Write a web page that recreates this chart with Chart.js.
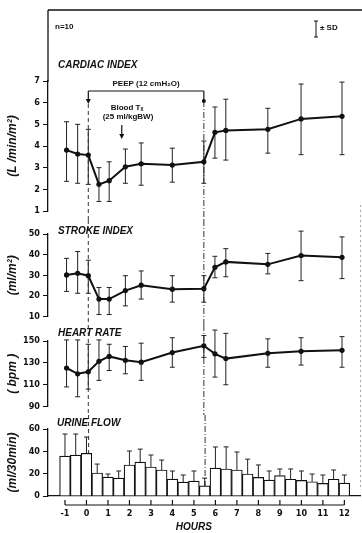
<!DOCTYPE html>
<html>
<head>
<meta charset="utf-8">
<script src="https://cdn.jsdelivr.net/npm/chart.js@4.4.1/dist/chart.umd.min.js"></script>
<style>
  html, body { margin: 0; padding: 0; background: #fff; }
  #wrap { position: relative; width: 362px; height: 533px; overflow: hidden; }
  .panel { position: absolute; left: 0; width: 362px; }
</style>
</head>
<body>
<div id="wrap">
  <div class="panel" style="top:0;height:220px"><canvas id="ci"></canvas></div>
  <div class="panel" style="top:220px;height:105px"><canvas id="si"></canvas></div>
  <div class="panel" style="top:325px;height:90px"><canvas id="hr"></canvas></div>
  <div class="panel" style="top:415px;height:118px"><canvas id="uf"></canvas></div>
</div>
<script>
// measurement times (hours), shared by the three line panels
const times = [-0.92, -0.4, 0.1, 0.6, 1.08, 1.84, 2.58, 4.04, 5.52, 6.04, 6.55, 8.52, 10.08, 12.0];

// cardiac index (L/min/m2), mean and +/- SD ends
const ciMean = [3.81, 3.63, 3.58, 2.23, 2.4, 3.04, 3.18, 3.12, 3.27, 4.63, 4.72, 4.77, 5.25, 5.37];
const ciHi   = [5.12, 5.0, 4.77, 3.0, 3.27, 3.86, 4.14, 3.9, 4.23, 5.8, 6.16, 5.74, 6.86, 6.95];
const ciLo   = [2.37, 2.28, 2.23, 1.44, 1.44, 2.28, 2.19, 2.33, 2.28, 3.44, 3.35, 3.67, 3.6, 3.6];

// stroke index (ml/m2)
const siMean = [30.2, 31.0, 29.8, 18.5, 18.5, 22.6, 25.2, 23.3, 23.5, 33.9, 36.5, 35.3, 39.6, 38.7];
const siHi   = [38.2, 41.5, 37.3, 24.1, 24.1, 29.8, 32.1, 29.8, 29.8, 39.2, 42.9, 40.6, 51.4, 48.6];
const siLo   = [22.2, 21.3, 21.3, 11, 11, 15.2, 18.5, 17, 17, 28.8, 29.3, 30.7, 27.4, 28.4];

// heart rate (bpm)
const hrMean = [125.3, 120, 121.8, 131.5, 135.9, 132.4, 130.6, 139.4, 145.6, 138.3, 133.9, 138.8, 140.6, 141.5];
const hrHi   = [151, 151, 147, 151, 147, 145, 148, 153, 155, 160, 157, 152, 153, 154];
const hrLo   = [108, 99, 106, 114, 123, 120, 114, 126, 135, 117, 110, 126, 128, 126];

// urine flow (ml/30min), half-hour bars
const urineHours = [-1, -0.5, 0, 0.5, 1, 1.5, 2, 2.5, 3, 3.5, 4, 4.5, 5, 5.5, 6, 6.5, 7, 7.5, 8, 8.5, 9, 9.5, 10, 10.5, 11, 11.5, 12];
const urineMean  = [35.8, 36.7, 38.2, 20.6, 17, 16.1, 27.8, 30.4, 26, 23.3, 15.2, 12.5, 13.4, 9, 25, 24.2, 23.3, 19.7, 16.7, 14.3, 18.2, 15, 14, 12.8, 11.3, 15, 11.6];
const urineSdTop = [55.5, 55.5, 52.8, 28.6, 19.7, 22.4, 40.3, 42, 36.7, 32.2, 22.4, 18.8, 22.4, 16, 43.9, 44, 39.4, 33, 27.8, 22.4, 24.2, 24.2, 22.4, 19.7, 18.8, 23.3, 18.8];

// x axis tick labels
const hourTicks = [-1, 0, 1, 2, 3, 4, 5, 6, 7, 8, 9, 10, 11, 12];

// events
const peepStart = 0.1;
const peepEnd = 5.52;
const bloodTxAt = 1.67;

const X_MIN = -1.79, X_MAX = 12.75;
const INK = '#111';
const tickFont = { family: '"Liberation Sans Narrow", "DejaVu Sans Condensed", sans-serif', size: 9, weight: 'bold' };
const titleFont = { family: '"Liberation Sans", Arial, sans-serif', size: 12, weight: 'bold', style: 'italic' };
const headFont = 'italic bold 10px "Liberation Sans", Arial, sans-serif';
const noteFont = 'bold 8px "Liberation Sans", Arial, sans-serif';

function txt(ctx, s, x, y, font, align) {
  ctx.font = font;
  ctx.textAlign = align || 'left';
  ctx.textBaseline = 'middle';
  ctx.fillStyle = INK;
  ctx.fillText(s, x, y);
}
function seg(ctx, x1, y1, x2, y2) {
  ctx.beginPath(); ctx.moveTo(x1, y1); ctx.lineTo(x2, y2); ctx.stroke();
}
function arrowDown(ctx, x, y) {
  ctx.beginPath(); ctx.moveTo(x - 2.5, y - 5); ctx.lineTo(x + 2.5, y - 5); ctx.lineTo(x, y); ctx.closePath(); ctx.fill();
}

function yScale(min, max, step, title) {
  return {
    min: min, max: max,
    afterFit: s => { s.width = 48; },
    ticks: { stepSize: step, color: INK, font: tickFont, padding: 3 },
    grid: { drawOnChartArea: false, tickLength: 5, color: INK, lineWidth: 1 },
    border: { color: INK, width: 1.3 },
    title: { display: true, text: title, color: INK, font: titleFont, padding: { top: 5, bottom: 0 } }
  };
}

function errorBars(hi, lo) {
  return {
    id: 'errorBars',
    beforeDatasetsDraw(chart) {
      const { ctx, scales: { x, y } } = chart;
      ctx.save();
      ctx.strokeStyle = '#222';
      ctx.lineWidth = 1;
      times.forEach((t, i) => {
        const px = x.getPixelForValue(t);
        const top = y.getPixelForValue(hi[i]);
        const bot = y.getPixelForValue(lo[i]);
        seg(ctx, px, top, px, bot);
        seg(ctx, px - 2.5, top, px + 2.5, top);
        seg(ctx, px - 2.5, bot, px + 2.5, bot);
      });
      ctx.restore();
    }
  };
}

// dashed event lines; y values are page coordinates
function eventLines(panelTop, yLeft, yRight, yEnd) {
  return {
    id: 'eventLines',
    beforeDatasetsDraw(chart) {
      const { ctx, scales: { x } } = chart;
      const xl = x.getPixelForValue(peepStart), xr = x.getPixelForValue(peepEnd);
      ctx.save();
      ctx.strokeStyle = '#333';
      ctx.lineWidth = 1;
      ctx.setLineDash([4, 3]);
      seg(ctx, xl, yLeft - panelTop, xl, yEnd - panelTop);
      ctx.setLineDash([6, 2, 1, 2]);
      seg(ctx, xr, yRight - panelTop, xr, yEnd - panelTop);
      ctx.setLineDash([2, 3]);
      ctx.strokeStyle = '#aaa';
      if (panelTop > 0) seg(ctx, 360.5, 0, 360.5, Math.min(490 - panelTop, chart.height));
      else seg(ctx, 360.5, 205, 360.5, chart.height);
      ctx.restore();
    }
  };
}

function headline(text, pageY, panelTop) {
  return {
    id: 'headline',
    afterDraw(chart) {
      txt(chart.ctx, text, 58, pageY - panelTop, headFont);
    }
  };
}

function linePanel(id, mean, hi, lo, yOpts, padTop, padBottom, extra) {
  return new Chart(document.getElementById(id), {
    type: 'line',
    data: {
      datasets: [{
        data: times.map((t, i) => ({ x: t, y: mean[i] })),
        borderColor: INK, borderWidth: 2,
        pointRadius: 2.6, pointBackgroundColor: INK, pointBorderWidth: 0,
        tension: 0, clip: false
      }]
    },
    options: {
      animation: false, responsive: true, maintainAspectRatio: false,
      layout: { padding: { top: padTop, bottom: padBottom, left: 0, right: 0 } },
      plugins: { legend: { display: false }, tooltip: { enabled: false } },
      scales: {
        x: { type: 'linear', min: X_MIN, max: X_MAX, display: false },
        y: yOpts
      }
    },
    plugins: [errorBars(hi, lo)].concat(extra)
  });
}

// Cardiac index panel with frame and annotations
const ciDecor = {
  id: 'ciDecor',
  afterDraw(chart) {
    const { ctx, scales: { x } } = chart;
    ctx.save();
    ctx.strokeStyle = INK; ctx.fillStyle = INK; ctx.lineWidth = 1.3;
    seg(ctx, 48, 10, 362, 10);
    seg(ctx, 48, 10, 48, 82);
    txt(ctx, 'n=10', 55, 27, noteFont);
    ctx.lineWidth = 1;
    seg(ctx, 316, 21, 316, 37); seg(ctx, 314, 21, 318, 21); seg(ctx, 314, 37, 318, 37);
    txt(ctx, '± SD', 320, 28, noteFont);
    txt(ctx, 'CARDIAC INDEX', 58, 65, headFont);
    const xl = x.getPixelForValue(peepStart), xr = x.getPixelForValue(peepEnd);
    ctx.lineWidth = 1.2;
    seg(ctx, xl, 91, xr, 91);
    seg(ctx, xl, 91, xl, 100); arrowDown(ctx, xl, 104);
    seg(ctx, xr, 91, xr, 101);
    ctx.beginPath(); ctx.arc(xr, 101, 2, 0, Math.PI * 2); ctx.fill();
    txt(ctx, 'PEEP (12 cmH₂O)', (xl + xr) / 2, 84, noteFont, 'center');
    txt(ctx, 'Blood Tₓ', 127, 108, noteFont, 'center');
    txt(ctx, '(25 ml/kgBW)', 128, 117, noteFont, 'center');
    const xa = x.getPixelForValue(bloodTxAt);
    seg(ctx, xa, 125, xa, 135); arrowDown(ctx, xa, 139);
    ctx.restore();
  }
};
linePanel('ci', ciMean, ciHi, ciLo, yScale(1, 7, 1, '(L /min/m²)'), 81, 9,
  [eventLines(0, 104, 101, 220), ciDecor]);

linePanel('si', siMean, siHi, siLo, yScale(10, 50, 10, '(ml/m²)'), 14, 6,
  [eventLines(220, 220, 220, 325), headline('STROKE INDEX', 231, 220)]);

linePanel('hr', hrMean, hrHi, hrLo, yScale(90, 150, 20, '( bpm )'), 16, 6,
  [eventLines(325, 325, 325, 415), headline('HEART RATE', 333, 325)]);

// Urine flow bars
const ufDecor = {
  id: 'ufDecor',
  afterDatasetsDraw(chart) {
    const { ctx, scales: { x, y } } = chart;
    ctx.save();
    ctx.strokeStyle = '#222'; ctx.lineWidth = 1;
    urineHours.forEach((h, i) => {
      const px = x.getPixelForValue(h);
      const top = y.getPixelForValue(urineSdTop[i]);
      const base = y.getPixelForValue(urineMean[i]);
      seg(ctx, px, base, px, top);
      seg(ctx, px - 2.5, top, px + 2.5, top);
    });
    // lower hour ruler
    const yr = 505 - 415;
    ctx.strokeStyle = INK; ctx.lineWidth = 1.2;
    seg(ctx, x.getPixelForValue(hourTicks[0]), yr, x.getPixelForValue(hourTicks[hourTicks.length - 1]), yr);
    hourTicks.forEach(h => {
      const px = x.getPixelForValue(h);
      seg(ctx, px, yr, px, yr - 5);
    });
    ctx.restore();
    txt(ctx, 'URINE FLOW', 57, 423 - 415, headFont);
    txt(ctx, 'HOURS', x.getPixelForValue(5), 527 - 415, headFont, 'center');
  }
};

new Chart(document.getElementById('uf'), {
  type: 'bar',
  data: {
    datasets: [{
      data: urineHours.map((h, i) => ({ x: h, y: urineMean[i] })),
      backgroundColor: '#fff', borderColor: INK, borderWidth: 1.2,
      barPercentage: 1, categoryPercentage: 1, borderSkipped: 'bottom'
    }]
  },
  options: {
    animation: false, responsive: true, maintainAspectRatio: false,
    layout: { padding: { top: 14, bottom: 0, left: 0, right: 0 } },
    plugins: { legend: { display: false }, tooltip: { enabled: false } },
    scales: {
      x: {
        type: 'linear', min: X_MIN, max: X_MAX, offset: false,
        afterBuildTicks: s => { s.ticks = hourTicks.map(v => ({ value: v })); },
        afterFit: s => { s.height = 37; },
        ticks: { color: INK, font: tickFont, padding: 12, maxRotation: 0, autoSkip: false },
        grid: { display: true, drawOnChartArea: false, drawTicks: false },
        border: { display: true, color: INK, width: 1.3 }
      },
      y: yScale(0, 60, 20, '(ml/30min)')
    }
  },
  plugins: [eventLines(415, 415, 415, 496), ufDecor]
});
</script>
</body>
</html>
